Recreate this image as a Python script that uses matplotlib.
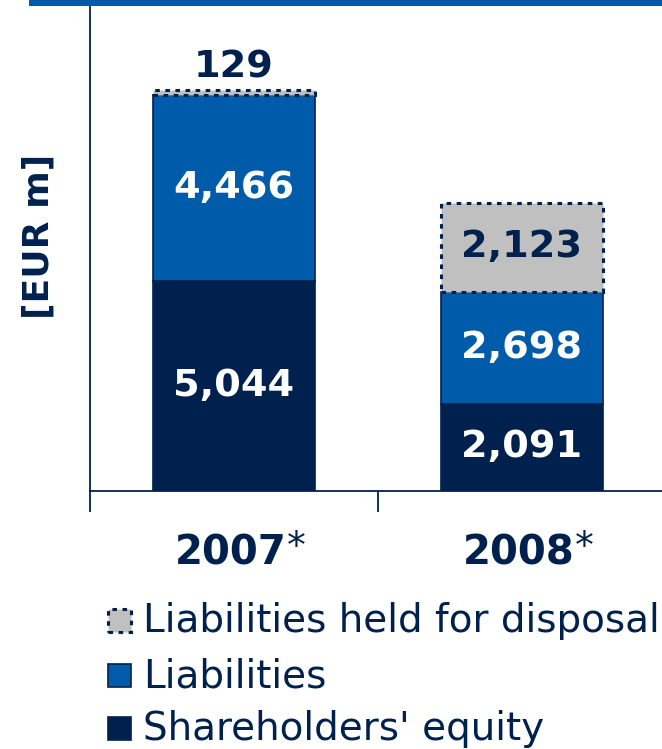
import matplotlib
matplotlib.use("Agg")
import matplotlib.pyplot as plt
from matplotlib.patches import Rectangle

# data
years = ["2007", "2008"]
equity = [5044, 2091]
liabilities = [4466, 2698]
disposal = [129, 2123]
legend_labels = ["Liabilities held for disposal", "Liabilities", "Shareholders' equity"]

navy = "#00214D"
blue = "#005BAA"
grey = "#C0C0C0"

W, H = 662, 749
fig = plt.figure(figsize=(W / 100, H / 100), dpi=100)

def fx(px):
    return px / W

def fy(py):
    return 1 - py / H

# axes box in pixels: left spine x=90, baseline y=491, top y=6, right edge off-canvas at 666
ax = fig.add_axes([fx(90), fy(491), (666 - 90) / W, (491 - 6) / H])

x = range(len(years))
bw = 0.56
b1 = ax.bar(x, equity, bw, color=navy, edgecolor=navy, linewidth=1.2)
b2 = ax.bar(x, liabilities, bw, bottom=equity, color=blue, edgecolor=navy, linewidth=1.2)
bottom3 = [e + l for e, l in zip(equity, liabilities)]
b3 = ax.bar(x, disposal, bw, bottom=bottom3, color=grey, edgecolor=navy,
            linewidth=2.2, linestyle=(0, (1.5, 1.8)))

ax.set_xlim(-0.5, 1.5)
ax.set_ylim(0, 11650)

lab_font = dict(fontsize=27.5, fontweight="bold", ha="center", va="center")
for i in x:
    ax.text(i, equity[i] / 2, f"{equity[i]:,}", color="white", **lab_font)
    ax.text(i, equity[i] + liabilities[i] / 2, f"{liabilities[i]:,}", color="white", **lab_font)
    if disposal[i] < 1000:
        ax.annotate(f"{disposal[i]:,}", (i, bottom3[i] + disposal[i]), xytext=(0, 16),
                    textcoords="offset points", color=navy, **lab_font)
    else:
        ax.text(i, bottom3[i] + disposal[i] / 2, f"{disposal[i]:,}", color=navy, **lab_font)

for s in ["top", "right"]:
    ax.spines[s].set_visible(False)
for s in ["left", "bottom"]:
    ax.spines[s].set_color(navy)
    ax.spines[s].set_linewidth(1.3)

ax.set_yticks([])
ax.set_xticks([-0.5, 0.5, 1.5])
ax.set_xticklabels([])
ax.tick_params(axis="x", direction="out", length=15, width=1.3, color=navy)

for i, yr in zip(x, years):
    t = ax.text(i - 0.01, -0.128, yr, transform=ax.get_xaxis_transform(),
                ha="center", va="center", fontsize=29, fontweight="bold", color=navy)
    ax.annotate("*", xy=(1, 1), xycoords=t, xytext=(0, 2.5), textcoords="offset points",
                ha="left", va="top", fontsize=27, color=navy)

fig.text(fx(39), fy(236), "[EUR m]", rotation=90, ha="center", va="center",
         fontsize=26, fontweight="bold", color=navy)

# top band
fig.add_artist(Rectangle((fx(29), fy(6)), 1 - fx(29), 6 / H, transform=fig.transFigure,
                         facecolor=blue, edgecolor="none"))

# legend
rows = [(b3, 632), (b2, 687), (b1, 740)]
for (cont, ybot), lab in zip(rows, legend_labels):
    p = cont.patches[0]
    fig.add_artist(Rectangle((fx(108), fy(ybot)), 23 / W, 23 / H, transform=fig.transFigure,
                             facecolor=p.get_facecolor(), edgecolor=p.get_edgecolor(),
                             linewidth=p.get_linewidth(), linestyle=p.get_linestyle()))
    fig.text(fx(143), fy(ybot), lab, ha="left", va="baseline", fontsize=28, color=navy)

fig.savefig("out.png", dpi=100)
